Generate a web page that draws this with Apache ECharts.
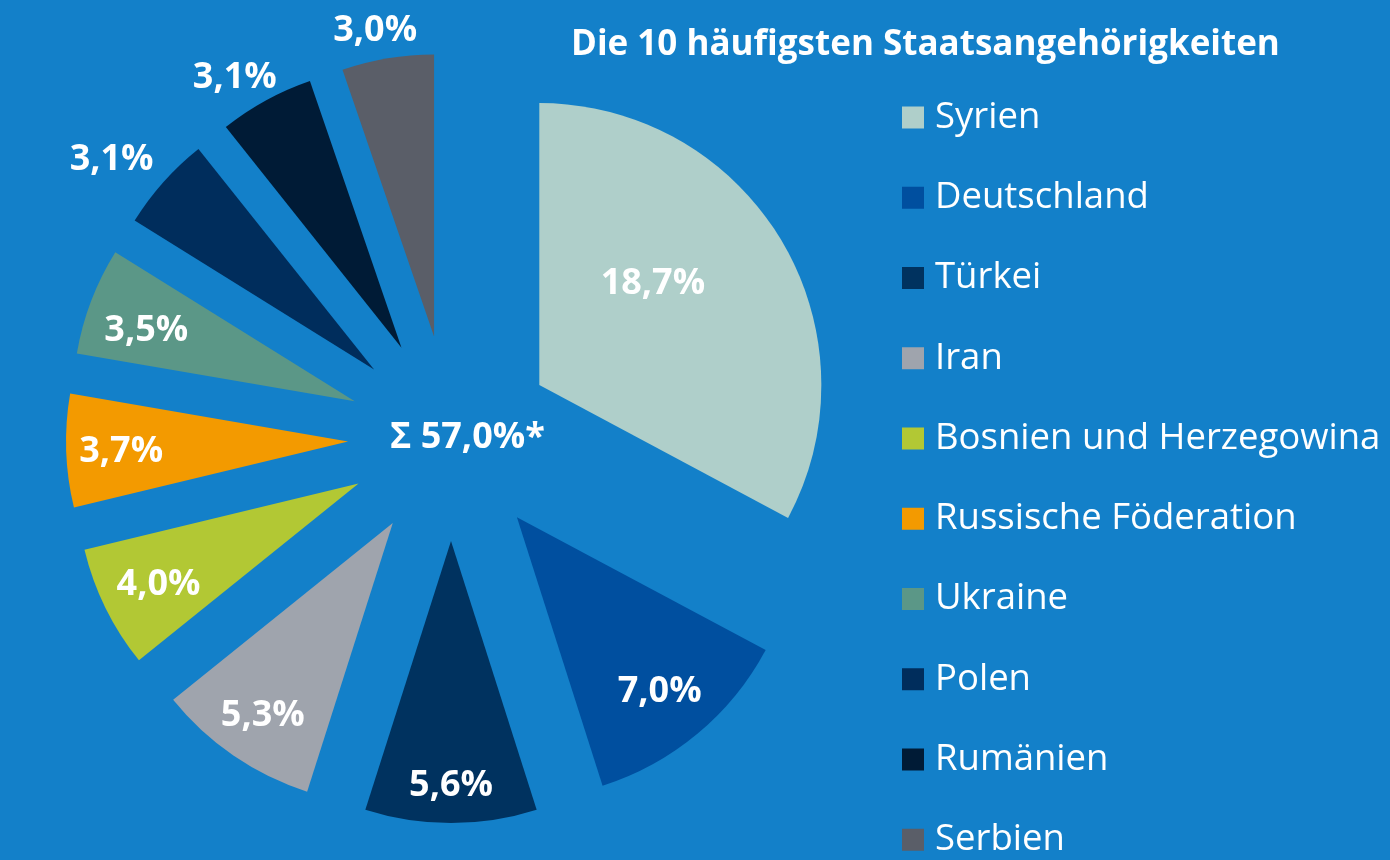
<!DOCTYPE html>
<html>
<head>
<meta charset="utf-8">
<script src="https://cdn.jsdelivr.net/npm/echarts@6/dist/echarts.min.js"></script>
<style>
  html, body { margin: 0; padding: 0; background: #1380c9; }
  #chart { width: 1390px; height: 860px; }
</style>
</head>
<body>
<div id="chart"></div>
<script>
// Anteile der 10 häufigsten Staatsangehörigkeiten (in %)
const countries = ['Syrien', 'Deutschland', 'Türkei', 'Iran', 'Bosnien und Herzegowina',
  'Russische Föderation', 'Ukraine', 'Polen', 'Rumänien', 'Serbien'];
const shares = [18.7, 7.0, 5.6, 5.3, 4.0, 3.7, 3.5, 3.1, 3.1, 3.0];

const sliceColors = ['#afcfca', '#004f9f', '#00325f', '#9fa4ad', '#b2c834',
  '#f39a00', '#5b9787', '#002d5c', '#001b36', '#5a5e68'];

// where each percentage label sits: distance from the pie centre, and a small
// counter-clockwise turn (degrees) like the original layout
const labelPlacement = [
  { dist: 253, turn: 7 },
  { dist: 323, turn: 0 },
  { dist: 342, turn: 0 },
  { dist: 330, turn: 0 },
  { dist: 323, turn: 0 },
  { dist: 327, turn: 0 },
  { dist: 321, turn: 1 },
  { dist: 438, turn: 2 },
  { dist: 420, turn: 2 },
  { dist: 414, turn: 1 },
];

const font = '"Open Sans", sans-serif';
const center = [451, 438];

const fmt = (v) => v.toFixed(1).replace('.', ',') + '%';
const total = shares.reduce((a, b) => a + b, 0);

// transparent ring that only carries the label of slice idx
function labelSeries(idx) {
  const p = labelPlacement[idx];
  return {
    type: 'pie',
    silent: true,
    center: center,
    radius: [p.dist - 10, p.dist + 10],
    startAngle: 90 + p.turn,
    itemStyle: { color: 'transparent' },
    label: {
      show: true,
      position: 'inside',
      color: '#fff',
      fontFamily: font,
      fontWeight: 'bold',
      fontSize: 36,
      offset: [0, 3],
      formatter: (d) => fmt(d.value),
    },
    labelLine: { show: false },
    data: countries.map((name, i) => ({ name, value: shares[i], label: { show: i === idx } })),
  };
}

const chart = echarts.init(document.getElementById('chart'));

chart.setOption({
  backgroundColor: '#1380c9',
  animation: false,
  title: [
    {
      text: 'Die 10 häufigsten Staatsangehörigkeiten',
      left: 566,
      top: 23,
      textStyle: { color: '#fff', fontFamily: font, fontWeight: 'bold', fontSize: 35 },
    },
    {
      text: 'Σ ' + total.toFixed(1).replace('.', ',') + '%*',
      left: 385,
      top: 415,
      textStyle: { color: '#fff', fontFamily: font, fontWeight: 'bold', fontSize: 36 },
    },
  ],
  legend: {
    orient: 'vertical',
    left: 902,
    top: 99,
    height: 760,
    padding: 0,
    itemWidth: 22,
    itemHeight: 22,
    itemGap: 43.25,
    icon: 'rect',
    selectedMode: false,
    data: countries,
    textStyle: { color: '#fff', fontFamily: font, fontSize: 36.5, lineHeight: 30, padding: [0, 0, 0, 6] },
  },
  series: [
    {
      type: 'pie',
      center: center,
      radius: 282,
      startAngle: 90,
      selectedMode: 'multiple',
      selectedOffset: 103,
      silent: true,
      label: { show: false },
      labelLine: { show: false },
      emphasis: { disabled: true },
      data: countries.map((name, i) => ({
        name,
        value: shares[i],
        selected: true,
        itemStyle: { color: sliceColors[i] },
      })),
    },
  ].concat(countries.map((_, i) => labelSeries(i))),
});
</script>
</body>
</html>
